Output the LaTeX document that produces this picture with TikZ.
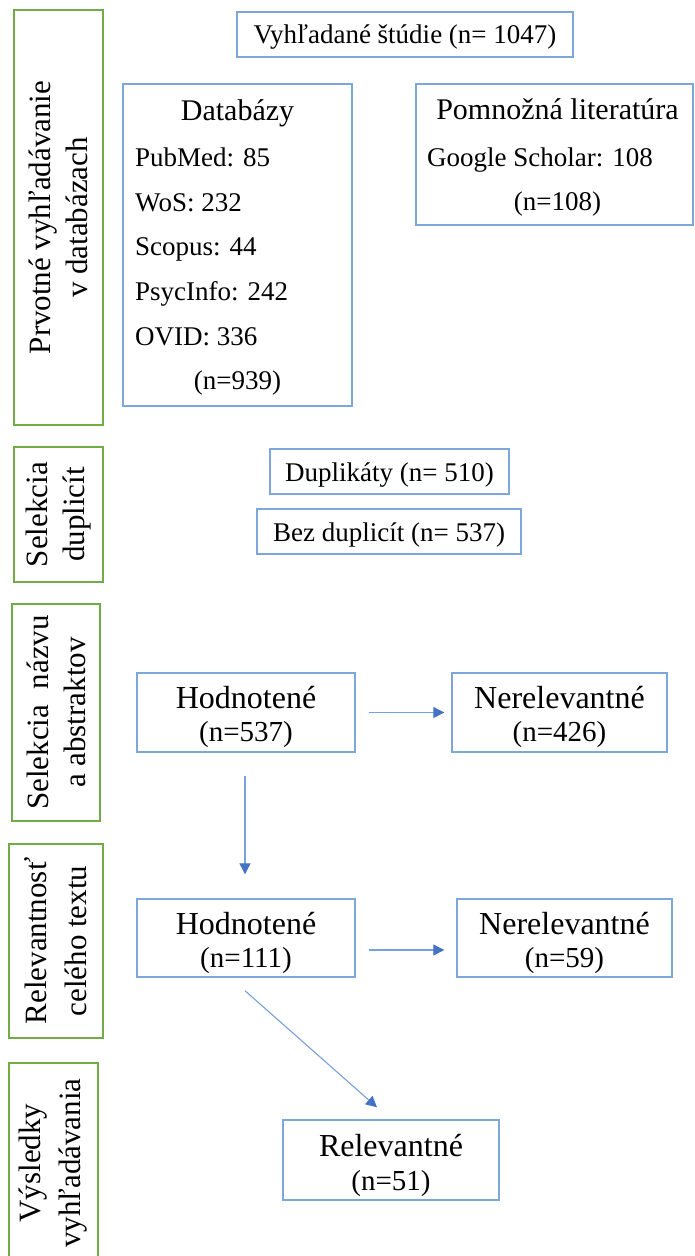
\documentclass[tikz,border=0pt]{standalone}
\usepackage{fontspec}
\setmainfont{Liberation Serif}
\usetikzlibrary{arrows.meta}
\definecolor{boxblue}{RGB}{125,167,217}
\definecolor{linkblue}{RGB}{120,160,218}
\definecolor{arrowblue}{RGB}{68,114,196}
\definecolor{labgreen}{RGB}{112,173,71}
\begin{document}
\begin{tikzpicture}[x=1pt,y=1pt,
  bbox/.style={draw=boxblue, line width=1.4pt, inner sep=0pt},
  gbox/.style={draw=labgreen, line width=2.6pt, inner sep=0pt, rotate=90, align=center,
    font=\fontsize{31}{37}\selectfont},
  txt/.style={inner sep=0pt, font=\fontsize{27}{32}\selectfont},
  head/.style={inner sep=0pt, font=\fontsize{30}{35}\selectfont},
  bigt/.style={inner sep=0pt, font=\fontsize{32}{35}\selectfont},
  numt/.style={inner sep=0pt, font=\fontsize{29}{33}\selectfont},
  arr/.style={draw=linkblue, line width=1.1pt, -{Triangle[length=11pt,width=11pt,color=arrowblue]}}
]
\useasboundingbox (0,0) rectangle (694,-1256);
\fill[white] (0,0) rectangle (694,-1256);

% green stage labels
\node[gbox, minimum width=415pt, minimum height=89pt] (g1) at (58.5,-217.5) {Prvotné vyhľadávanie\\v databázach};
\node[gbox, minimum width=135pt, minimum height=89pt] (g2) at (58.5,-514.5) {Selekcia\\duplicít};
\node[gbox, minimum width=217pt, minimum height=88pt] (g3) at (56,-712.5) {Selekcia\ \ názvu\\a abstraktov};
\node[gbox, minimum width=194pt, minimum height=94pt, font=\fontsize{31}{40}\selectfont] (g4) at (56,-941) {Relevantnosť\\celého textu};
\node[gbox, minimum width=200pt, minimum height=89pt, font=\fontsize{31}{40}\selectfont] (g5) at (53.5,-1163) {Výsledky\\vyhľadávania};

% top box
\node[bbox, minimum width=336pt, minimum height=45pt] (top) at (405,-34.5) {};
\node[txt, anchor=base] (toptxt) at (405,-43) {Vyhľadané štúdie (n= 1047)};

% databazy
\node[bbox, minimum width=229pt, minimum height=322pt] (db) at (237.5,-245) {};
\node[head, anchor=base] (dbh) at (237.5,-120) {Databázy};
\node[txt, anchor=base west] (pm) at (135,-166) {PubMed: 85};
\node[txt, anchor=base west] (wos) at (135,-211) {WoS: 232};
\node[txt, anchor=base west] (sc) at (135,-255) {Scopus: 44};
\node[txt, anchor=base west] (psy) at (135,-300) {PsycInfo: 242};
\node[txt, anchor=base west] (ovid) at (135,-345) {OVID: 336};
\node[txt, anchor=base] (n939) at (237.5,-389) {(n=939)};

% pomnozna literatura
\node[bbox, minimum width=277pt, minimum height=141pt] (pl) at (554.5,-154.5) {};
\node[head, anchor=base] (plh) at (557.5,-119) {Pomnožná literatúra};
\node[txt, anchor=base west] (gs) at (427,-166) {Google Scholar: 108};
\node[txt, anchor=base] (n108) at (557.5,-210) {(n=108)};

% duplicates
\node[bbox, minimum width=239pt, minimum height=45pt] (dup) at (389.5,-471.5) {};
\node[txt, anchor=base] (duptxt) at (389.5,-481) {Duplikáty (n= 510)};
\node[bbox, minimum width=264pt, minimum height=45pt] (bez) at (389,-531.5) {};
\node[txt, anchor=base] (beztxt) at (389,-541) {Bez duplicít (n= 537)};

% screening boxes
\node[bbox, minimum width=218pt, minimum height=79pt] (h1) at (246,-712.5) {};
\node[bigt, anchor=base] (h1a) at (246,-708) {Hodnotené};
\node[numt, anchor=base] (h1b) at (246,-741) {(n=537)};
\node[bbox, minimum width=215pt, minimum height=79pt] (n1) at (559.5,-712.5) {};
\node[bigt, anchor=base] (n1a) at (559.5,-708) {Nerelevantné};
\node[numt, anchor=base] (n1b) at (559.5,-741) {(n=426)};
\node[bbox, minimum width=218pt, minimum height=78pt] (h2) at (246,-938) {};
\node[bigt, anchor=base] (h2a) at (246,-934) {Hodnotené};
\node[numt, anchor=base] (h2b) at (246,-967) {(n=111)};
\node[bbox, minimum width=215pt, minimum height=78pt] (n2) at (564.5,-938) {};
\node[bigt, anchor=base] (n2a) at (564.5,-934) {Nerelevantné};
\node[numt, anchor=base] (n2b) at (564.5,-967) {(n=59)};
\node[bbox, minimum width=216pt, minimum height=80pt] (rel) at (391,-1160) {};
\node[bigt, anchor=base] (rela) at (391,-1156) {Relevantné};
\node[numt, anchor=base] (relb) at (391,-1190) {(n=51)};

% arrows
\draw[arr, shorten <=13pt, shorten >=7pt] (h1.east) -- (n1.west);
\draw[arr, shorten <=23pt, shorten >=24pt] ([xshift=-1pt]h1.south) -- ([xshift=-1pt]h2.north);
\draw[arr, shorten <=13pt, shorten >=12pt] ([yshift=-12pt]h2.east) -- ([yshift=-12pt]n2.west);
\coordinate (dstart) at ([xshift=-1pt,yshift=-13pt]h2.south);
\coordinate (dend) at ([xshift=-14pt,yshift=12pt]rel.north);
\draw[arr] (dstart) -- (dend);
\end{tikzpicture}
\end{document}
